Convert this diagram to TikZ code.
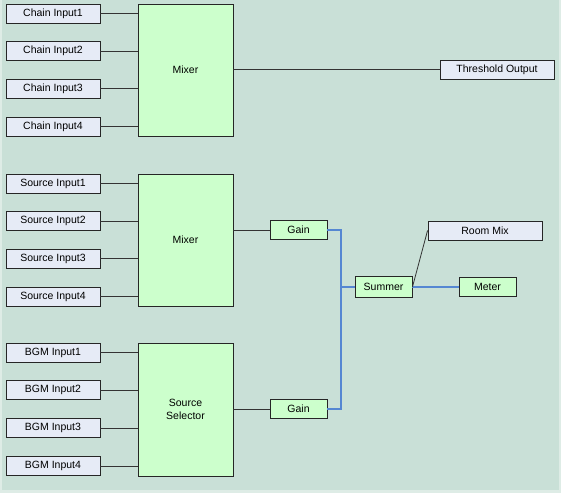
\documentclass[tikz,border=0pt]{standalone}
\usepackage{fontspec}
\setmainfont{Liberation Sans}
\usetikzlibrary{calc}
\definecolor{bgpanel}{RGB}{201,224,215}
\definecolor{bgedge}{RGB}{222,236,230}
\definecolor{inbox}{RGB}{230,235,246}
\definecolor{blockgreen}{RGB}{204,255,204}
\definecolor{wireblue}{RGB}{85,135,210}
\tikzset{
  inport/.style={draw=black!85, fill=inbox, line width=0.9pt, minimum width=94pt, minimum height=19pt, inner sep=0pt},
  block/.style={draw=black!85, fill=blockgreen, line width=0.9pt, minimum width=95pt, inner sep=0pt, align=center},
  smallblock/.style={draw=black!85, fill=blockgreen, line width=0.9pt, minimum width=57pt, minimum height=19pt, inner sep=0pt},
  wire/.style={draw=black!80, line width=0.8pt},
  bluewire/.style={draw=wireblue, line width=1.2pt}
}

\begin{document}
\begin{tikzpicture}[x=1pt, y=-1pt, font=\fontsize{10.5}{12.6}\selectfont]
    % background
    \fill[bgedge] (0,0) rectangle (561,493);
    \fill[bgpanel] (2,0) rectangle (559,490);
    \useasboundingbox (0,0) rectangle (561,493);

    % big blocks
    \node[block, minimum height=132pt] (mixA) at (185.5,70) {Mixer};
    \node[block, minimum height=132pt] (mixB) at (185.5,240) {Mixer};
    \node[block, minimum height=133pt] (sel) at (185.5,409.5) {Source\\Selector};

    % inputs
    \foreach \i in {1,...,4} {
        \node[inport] (chain\i) at (53,{13.5+37.67*(\i-1)}) {Chain Input\i};
        \node[inport] (src\i) at (53,{183.5+37.67*(\i-1)}) {Source Input\i};
        \node[inport] (bgm\i) at (53,{352.5+37.9*(\i-1)}) {BGM Input\i};
        \draw[wire] (chain\i.east) -- (chain\i.east -| mixA.west);
        \draw[wire] (src\i.east) -- (src\i.east -| mixB.west);
        \draw[wire] (bgm\i.east) -- (bgm\i.east -| sel.west);
    }

    % outputs and small blocks
    \node[inport, minimum width=114pt] (thresh) at (497,69.5) {Threshold Output};
    \node[smallblock] (gainA) at (298.5,230) {Gain};
    \node[smallblock] (gainB) at (298.5,409) {Gain};
    \node[smallblock, minimum height=21pt] (sum) at (383.5,287) {Summer};
    \node[inport, minimum width=114pt] (room) at (485,230.5) {Room Mix};
    \node[smallblock] (meter) at (487.5,287) {Meter};
    \coordinate (jn) at (341,287);

    % connections
    \draw[wire] (thresh.west -| mixA.east) -- (thresh.west);
    \draw[wire] (gainA.west -| mixB.east) -- (gainA.west);
    \draw[wire] (gainB.west -| sel.east) -- (gainB.west);
    \draw[bluewire] (gainA.east) -| (jn);
    \draw[bluewire] (gainB.east) -| (jn);
    \draw[bluewire] (jn) -- (sum.west);
    \draw[bluewire] (sum.east) -- (meter.west);
    \draw[wire] (sum.east) -- (room.west);
\end{tikzpicture}
\end{document}
